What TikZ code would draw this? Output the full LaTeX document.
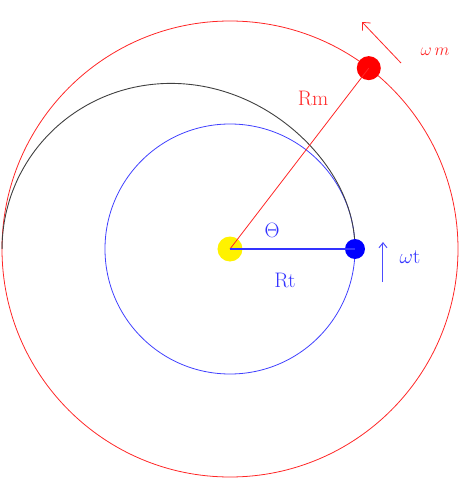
\documentclass[tikz,border=0pt]{standalone}
\usetikzlibrary{arrows.meta}
\begin{document}
\begin{tikzpicture}[x=1pt,y=1pt,
        dot/.style={circle,inner sep=0pt,minimum size=#1},
        lab/.style={font=\fontsize{21}{24}\selectfont}]
        \useasboundingbox (-230,-231) rectangle (239,249);

        %%%%%%%%%% Orbite %%%%%%%%%%
        \draw[red!85,line width=0.8pt] (0,0) circle (228);
        \draw[blue!75,line width=0.8pt] (0,0) circle (125);
        \draw[black!75,line width=0.9pt] plot[domain=0:180,samples=120,smooth]
            (\x:{125+103*abs(sin(\x/2))^3.5});

        %%%%%%%%%% Nodi %%%%%%%%%%
        \node[dot=25pt,fill=yellow] (sun) at (0,0) {};
        \node[dot=20pt,fill=blue] (earth) at (125,0) {};
        \node[dot=24pt,fill=red] (moon) at (52.5:228) {};

        \draw[red!85,line width=0.8pt] (sun.center) -- (moon.center);
        \draw[blue!80,line width=1.1pt] (sun.center) -- (earth.center);

        %%%%%%%%% Etichette %%%%%%%%%
        \node[lab,red!85] (rm) at (83,151) {Rm};
        \node[red!85,font=\fontsize{18}{20}\selectfont] (wm) at (205,197) {$\omega\,m$};
        \node[lab,blue!80] (theta) at (42,19) {$\Theta$};
        \node[lab,blue!80] (rt) at (55,-31) {Rt};
        \node[lab,blue!80] (wt) at (180,-8) {$\omega$t};

        %%%%%%%%% Frecce %%%%%%%%%
        \coordinate (wmtail) at (171,186);
        \coordinate (wmhead) at (132,227);
        \coordinate (wttail) at (153,-33);
        \coordinate (wthead) at (153,7);
        \draw[-{Straight Barb[length=6pt,width=11pt]},red!85,line width=0.8pt] (wmtail) -- (wmhead);
        \draw[-{Straight Barb[length=5pt,width=8pt]},blue!70,line width=1pt] (wttail) -- (wthead);
    \end{tikzpicture}
\end{document}
